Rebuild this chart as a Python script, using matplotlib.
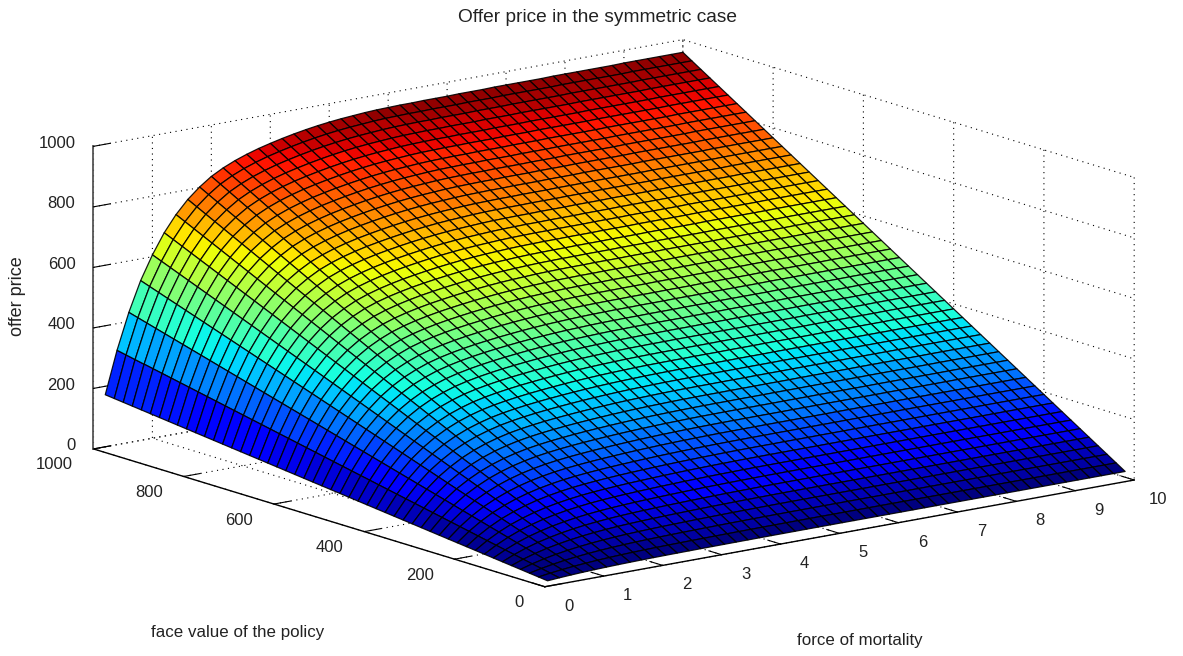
import numpy as np
import matplotlib
matplotlib.use("Agg")
import matplotlib.pyplot as plt
from mpl_toolkits.mplot3d import proj3d

plt.rcParams['font.family'] = ['Liberation Sans', 'DejaVu Sans']

force_of_mortality = [0.2, 0.4, 0.6, 0.8, 1.0, 1.2, 1.4, 1.6, 1.8, 2.0,
                      2.2, 2.4, 2.6, 2.8, 3.0, 3.2, 3.4, 3.6, 3.8, 4.0,
                      4.2, 4.4, 4.6, 4.8, 5.0, 5.2, 5.4, 5.6, 5.8, 6.0,
                      6.2, 6.4, 6.6, 6.8, 7.0, 7.2, 7.4, 7.6, 7.8, 8.0,
                      8.2, 8.4, 8.6, 8.8, 9.0, 9.2, 9.4, 9.6, 9.8, 10.0]
face_value = [20, 40, 60, 80, 100, 120, 140, 160, 180, 200,
              220, 240, 260, 280, 300, 320, 340, 360, 380, 400,
              420, 440, 460, 480, 500, 520, 540, 560, 580, 600,
              620, 640, 660, 680, 700, 720, 740, 760, 780, 800,
              820, 840, 860, 880, 900, 920, 940, 960, 980, 1000]
# offer price read along the back edge (face value 1000)
price_at_full_face = [172, 312, 430, 528, 606, 672, 725, 768, 802, 830,
                      851, 868, 882, 894, 904, 913, 921, 928, 934, 939,
                      943, 946, 949, 951, 952, 953, 953, 954, 954, 954,
                      955, 955, 955, 956, 956, 956, 956, 956, 957, 957,
                      957, 957, 957, 957, 958, 958, 958, 958, 958, 958]
x_ticks = [0, 1, 2, 3, 4, 5, 6, 7, 8, 9, 10]
y_ticks = [0, 200, 400, 600, 800, 1000]
z_ticks = [0, 200, 400, 600, 800, 1000]
title = 'Offer price in the symmetric case'
xlabel = 'force of mortality'
ylabel = 'face value of the policy'
zlabel = 'offer price'

W, H = 1183, 656
fig = plt.figure(figsize=(W/100, H/100), dpi=100, facecolor='white')
ax = fig.add_axes([0, 0, 1, 1], projection='3d')
ax.patch.set_alpha(0)
ax.set_proj_type('ortho')
ax.view_init(elev=13.6, azim=-127.6)
ax.set_box_aspect((744.8, 740.6, 311.7))
ax.set_xlim(0, 10, view_margin=0)
ax.set_ylim(0, 1000, view_margin=0)
ax.set_zlim(0, 1000, view_margin=0)

X, Y = np.meshgrid(force_of_mortality, face_value)
Z = np.outer(np.array(face_value) / 1000.0, price_at_full_face)
cmap = matplotlib.colormaps['jet'].resampled(64)
norm = plt.Normalize(5, Z.max())
ax.plot_surface(X, Y, Z, rstride=1, cstride=1, facecolors=cmap(norm(Z)),
                shade=False, edgecolor=(0, 0, 0, 0.9), linewidth=0.9)

ax.set_xticks(x_ticks)
ax.set_yticks(y_ticks)
ax.set_zticks(z_ticks)
ax.xaxis.set_ticklabels([])
ax.yaxis.set_ticklabels([])
ax.zaxis.set_ticklabels([])
for a in (ax.xaxis, ax.yaxis, ax.zaxis):
    a.pane.set_facecolor('white')
    a.pane.set_edgecolor('none')
    a.line.set_color('black')
    a.line.set_linewidth(1.0)
    a._axinfo['grid'].update(color='black', linewidth=0.8, linestyle=(0, (1, 4)))
    a._axinfo['tick'].update(inward_factor=0.0, outward_factor=0.35)
ax.zaxis.line.set_color('#555555')
ax.zaxis.line.set_linewidth(1.3)

# place the axes so the box corners land where the reference has them
corners = [(0, 0, 0), (10, 0, 0), (0, 1000, 0), (0, 1000, 1000), (10, 1000, 1000), (10, 0, 1000)]
targets = np.array([(545, 587), (1133, 480), (93, 449), (93, 146), (685, 40), (1134, 177)], float)
ax.apply_aspect()
M = ax.get_proj()
uv = np.array([proj3d.proj_transform(*c, M)[:2] for c in corners])
disp = ax.transData.transform(uv)
disp[:, 1] = H - disp[:, 1]
dm, tm = disp.mean(0), targets.mean(0)
s = ((disp - dm) * (targets - tm)).sum() / ((disp - dm) ** 2).sum()
t = tm - s * dm
bb = ax.get_position()
x0, y0, w, h = bb.x0 * W, bb.y0 * H, bb.width * W, bb.height * H
nw, nh = s * w, s * h
nx = s * x0 + t[0]
top = s * (H - (y0 + h)) + t[1]
ax.set_position([nx / W, (H - top - nh) / H, nw / W, nh / H])
ax.apply_aspect()


def tick_label(point, text, dx, dy, ha):
    u, v = proj3d.proj_transform(*point, ax.get_proj())[:2]
    px, py = ax.transData.transform((u, v))
    fig.text((px + dx) / W, (py - dy) / H, text, ha=ha, va='center', fontsize=12, color='#222222')


for v in x_ticks:
    tick_label((v, 0, 0), str(v), 24, 19.5, 'center')
for v in y_ticks:
    tick_label((0, v, 0), str(v), -21, 16, 'right')
for v in z_ticks:
    tick_label((0, 1000, v), str(v), -18, -3, 'right')

fig.text(597 / W, 1 - 17 / H, title, ha='center', va='center', fontsize=13.8, color='#222222')
fig.text(860 / W, 1 - 640 / H, xlabel, ha='center', va='center', fontsize=12.2, color='#222222')
fig.text(238 / W, 1 - 633 / H, ylabel, ha='center', va='center', fontsize=12.2, color='#222222')
fig.text(18 / W, 1 - 296 / H, zlabel, ha='center', va='center', rotation=90, fontsize=13, color='#222222')

fig.savefig('out.png', dpi=100)
